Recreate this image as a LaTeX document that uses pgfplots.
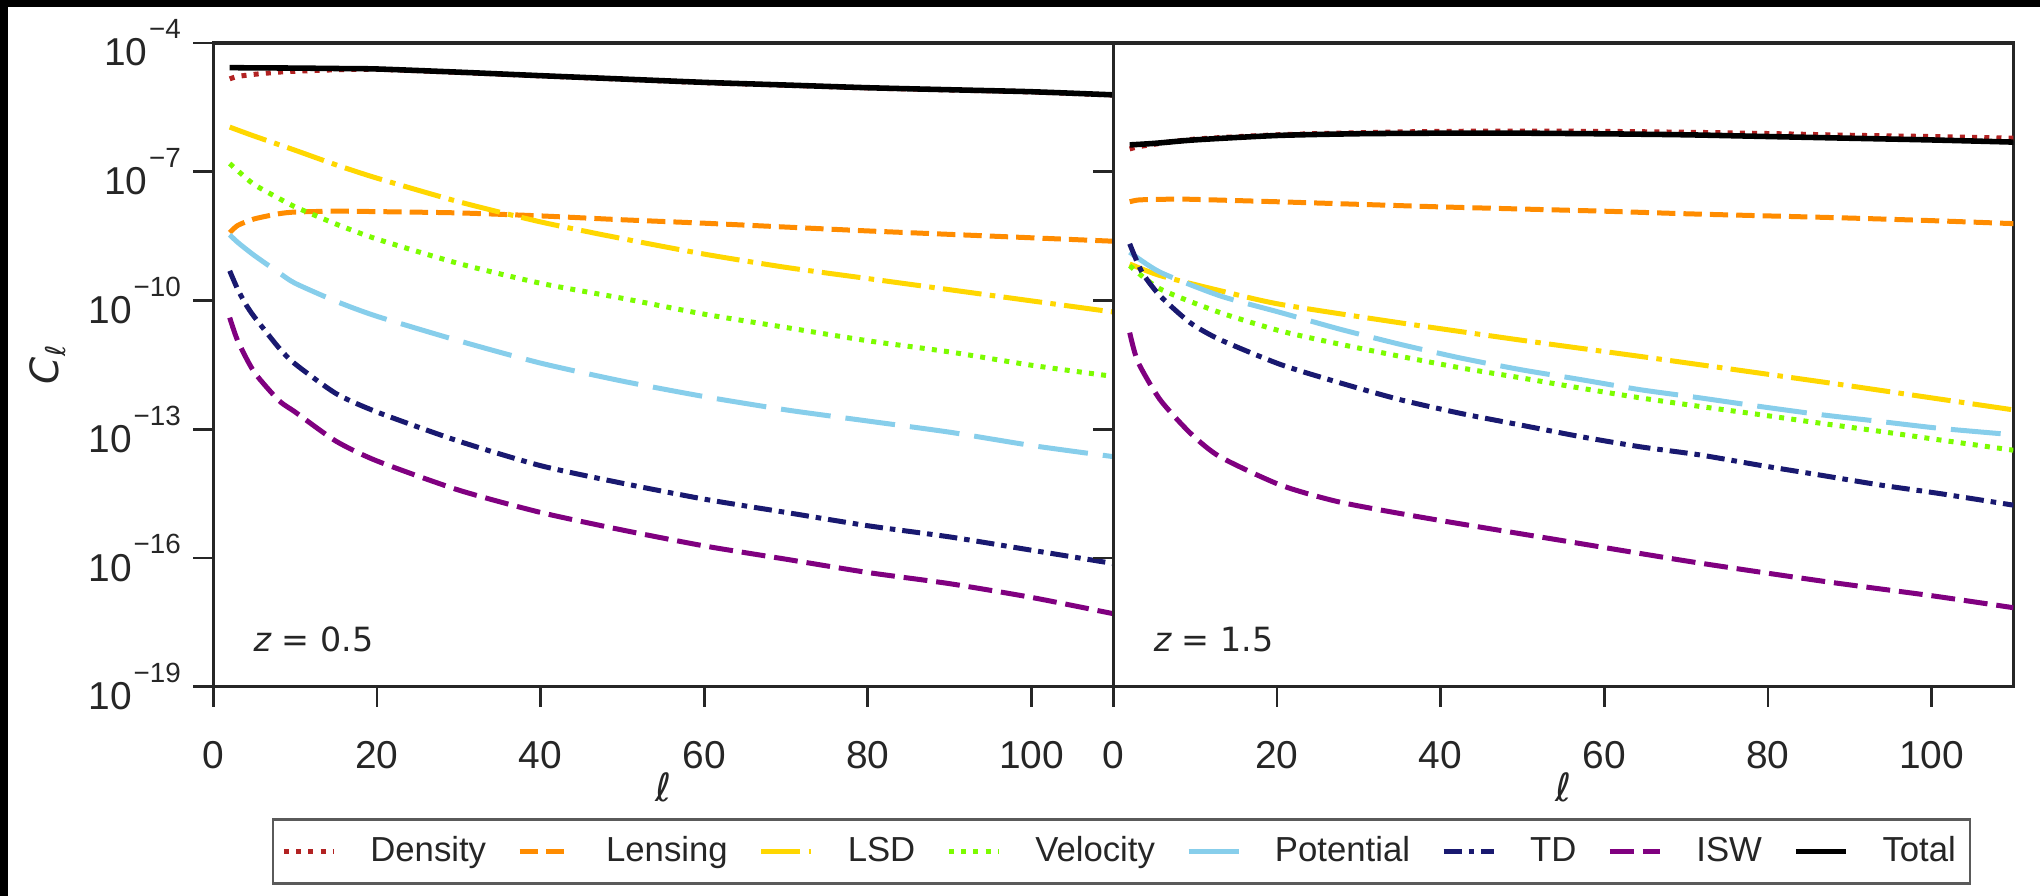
\documentclass[border=0pt]{standalone}
\usepackage{pgfplots}
\pgfplotsset{compat=1.18}
\usepackage{fontspec}
\setmainfont{Liberation Sans}
\newfontfamily\dejavu{DejaVu Sans}
\definecolor{axgray}{HTML}{262626}
\definecolor{leggray}{HTML}{5A5A5A}
\definecolor{cDensity}{HTML}{B22222}
\definecolor{cLensing}{HTML}{FF8C00}
\definecolor{cLSD}{HTML}{FFD700}
\definecolor{cVel}{HTML}{7CFC00}
\definecolor{cPot}{HTML}{87CEEB}
\definecolor{cTD}{HTML}{191970}
\definecolor{cISW}{HTML}{800080}
\newcommand{\tenpow}[1]{10\kern0.6pt\raisebox{9.8pt}{\fontsize{10}{10}\selectfont −#1}}
\tikzset{
  sDensity/.style={draw=cDensity, line width=1.8pt, dash pattern=on 1.8pt off 2.6pt},
  sLensing/.style={draw=cLensing, line width=1.8pt, dash pattern=on 6.6pt off 2.9pt},
  sLSD/.style={draw=cLSD, line width=1.8pt, dash pattern=on 14pt off 3pt on 2pt off 3pt},
  sVel/.style={draw=cVel, line width=1.8pt, dash pattern=on 1.8pt off 2.6pt},
  sPot/.style={draw=cPot, line width=1.8pt, dash pattern=on 18pt off 5.4pt},
  sTD/.style={draw=cTD, line width=1.8pt, dash pattern=on 6.5pt off 2.5pt on 2pt off 2.5pt},
  sISW/.style={draw=cISW, line width=1.8pt, dash pattern=on 8.6pt off 3.2pt},
  sTot/.style={draw=black, line width=2pt},
}
\begin{document}
\begin{tikzpicture}
\useasboundingbox (0,0) rectangle (734.4pt,-322.56pt);
\fill[black] (0,0) rectangle (734.4pt,-2.5pt);
\fill[black] (0,0) rectangle (2.9pt,-322.56pt);
% ---------------- left panel z = 0.5 ----------------
\begin{axis}[
  scale only axis, width=324pt, height=231.73pt,
  at={(76.8pt,-247.2pt)}, anchor=south west,
  xmin=0, xmax=110, ymode=log, ymin=1e-19, ymax=1e-4,
  xtick={0,20,40,60,80,100},
  ytick={1e-19,1e-16,1e-13,1e-10,1e-7,1e-4},
  yticklabels={\tenpow{19},\tenpow{16},\tenpow{13},\tenpow{10},\tenpow{7},\tenpow{4}},
  /pgf/number format/assume math mode=true,
  yminorticks=false, xminorticks=false,
  tick align=outside, major tick length=7.2pt,
  xtick pos=bottom, ytick pos=left,
  axis line style={line width=1.2pt, draw=axgray},
  tick style={line width=1.0pt, draw=axgray},
  tick label style={font=\fontsize{14}{16}\selectfont, text=axgray},
  xticklabel style={yshift=-9.1pt},
  yticklabel style={xshift=-1pt},
  xlabel={\dejavu\itshape ℓ},
  xlabel style={at={(axis description cs:0.5,-0.156)}, anchor=center, font=\fontsize{14}{16}\selectfont, text=axgray},
  ylabel={{\dejavu\itshape C}\raisebox{-2.5pt}{\fontsize{9.8}{10}\dejavu\itshape ℓ}},
  ylabel style={at={(axis description cs:-0.184,0.5)}, anchor=center, font=\fontsize{14}{16}\selectfont, text=axgray},
  legend columns=8,
  legend style={at={(1.009,-0.256)}, anchor=center, draw=leggray, line width=0.9pt, fill=white,
    font=\fontsize{12.5}{15}\selectfont, text=axgray, inner xsep=3pt, inner ysep=4.3pt,
    /tikz/every odd column/.append style={column sep=10.2pt},
    /tikz/every even column/.append style={column sep=9.2pt}},
  legend cell align=left,
  legend image code/.code={\draw[#1] (0pt,0pt) -- (18pt,0pt);},
]
\addplot[sDensity, smooth, tension=0.4] coordinates {(2,1.46e-5)(3,1.66e-5)(5,1.86e-5)(8,2.09e-5)(10,2.19e-5)(15,2.37e-5)(20,2.43e-5)(30,2.06e-5)(40,1.71e-5)(50,1.43e-5)(60,1.19e-5)(70,1.035e-5)(80,8.95e-6)(90,8.04e-6)(100,7.23e-6)(110,6.11e-6)};
\addlegendentry{Density}
\addplot[sLensing, smooth, tension=0.4] coordinates {(2,3.802e-9)(3,5.623e-9)(5,7.943e-9)(8,1.047e-8)(10,1.148e-8)(15,1.202e-8)(20,1.175e-8)(30,1.096e-8)(40,9.333e-9)(50,7.586e-9)(60,6.310e-9)(70,5.129e-9)(80,4.169e-9)(90,3.467e-9)(100,2.884e-9)(110,2.399e-9)};
\addlegendentry{Lensing}
\addplot[sLSD, smooth, tension=0.4] coordinates {(2,1.096e-6)(5,6.76e-7)(10,3.162e-7)(15,1.445e-7)(20,7.08e-8)(30,1.995e-8)(40,6.76e-9)(50,2.754e-9)(60,1.202e-9)(70,5.89e-10)(80,3.236e-10)(90,1.778e-10)(100,9.77e-11)(110,5.37e-11)};
\addlegendentry{LSD}
\addplot[sVel, smooth, tension=0.4] coordinates {(2,1.549e-7)(3,1.047e-7)(5,5.012e-8)(8,2.399e-8)(10,1.514e-8)(15,6.026e-9)(20,2.692e-9)(30,7.244e-10)(40,2.512e-10)(50,1.122e-10)(60,4.786e-11)(70,2.344e-11)(80,1.148e-11)(90,6.310e-12)(100,3.090e-12)(110,1.698e-12)};
\addlegendentry{Velocity}
\addplot[sPot, smooth, tension=0.4] coordinates {(2,3.388e-9)(3,2.239e-9)(5,1.122e-9)(8,4.467e-10)(10,2.512e-10)(15,9.550e-11)(20,4.266e-11)(30,1.148e-11)(40,3.467e-12)(50,1.318e-12)(60,5.754e-13)(70,2.818e-13)(80,1.549e-13)(90,8.511e-14)(100,4.169e-14)(110,2.291e-14)};
\addlegendentry{Potential}
\addplot[sTD, smooth, tension=0.4] coordinates {(2,4.898e-10)(3,1.778e-10)(4,7.943e-11)(5,4.169e-11)(8,7.943e-12)(10,3.311e-12)(15,6.761e-13)(20,2.512e-13)(30,5.248e-14)(40,1.413e-14)(50,5.495e-15)(60,2.344e-15)(70,1.148e-15)(80,5.623e-16)(90,3.090e-16)(100,1.514e-16)(110,7.413e-17)};
\addlegendentry{TD}
\addplot[sISW, smooth, tension=0.4] coordinates {(2,3.981e-11)(3,1.122e-11)(5,2.138e-12)(8,4.677e-13)(10,2.512e-13)(15,5.248e-14)(20,1.820e-14)(30,3.802e-15)(40,1.148e-15)(50,4.467e-16)(60,1.905e-16)(70,9.333e-17)(80,4.571e-17)(90,2.512e-17)(100,1.202e-17)(110,5.012e-18)};
\addlegendentry{ISW}
\addplot[sTot, smooth, tension=0.4] coordinates {(2,2.661e-5)(5,2.630e-5)(10,2.600e-5)(15,2.541e-5)(20,2.477e-5)(30,2.089e-5)(40,1.730e-5)(50,1.445e-5)(60,1.208e-5)(70,1.047e-5)(80,9.06e-6)(90,8.13e-6)(100,7.31e-6)(110,6.18e-6)};
\addlegendentry{Total}
\node[anchor=base west, font=\fontsize{12}{14}\dejavu, text=axgray] at (rel axis cs:0.034,0.054) {{\itshape z} = 0.5};
\end{axis}
% ---------------- right panel z = 1.5 ----------------
\begin{axis}[
  scale only axis, width=324pt, height=231.73pt,
  at={(400.8pt,-247.2pt)}, anchor=south west,
  xmin=0, xmax=110, ymode=log, ymin=1e-19, ymax=1e-4,
  xtick={0,20,40,60,80,100},
  ytick={1e-19,1e-16,1e-13,1e-10,1e-7,1e-4},
  yticklabels={},
  /pgf/number format/assume math mode=true,
  yminorticks=false, xminorticks=false,
  tick align=outside, major tick length=7.2pt,
  xtick pos=bottom, ytick pos=left,
  axis line style={line width=1.2pt, draw=axgray},
  tick style={line width=1.0pt, draw=axgray},
  tick label style={font=\fontsize{14}{16}\selectfont, text=axgray},
  xticklabel style={yshift=-9.1pt},
  xlabel={\dejavu\itshape ℓ},
  xlabel style={at={(axis description cs:0.5,-0.156)}, anchor=center, font=\fontsize{14}{16}\selectfont, text=axgray},
]
\addplot[sDensity, smooth, tension=0.4] coordinates {(2,3.388e-7)(3,3.802e-7)(5,4.365e-7)(10,5.754e-7)(20,7.244e-7)(30,8.128e-7)(40,8.710e-7)(50,8.810e-7)(60,8.710e-7)(70,8.318e-7)(80,7.762e-7)(90,7.079e-7)(100,6.607e-7)(110,6.026e-7)};
\addplot[sLensing, smooth, tension=0.4] coordinates {(2,1.995e-8)(3,2.188e-8)(5,2.265e-8)(8,2.291e-8)(10,2.265e-8)(20,1.995e-8)(30,1.738e-8)(40,1.514e-8)(50,1.349e-8)(60,1.202e-8)(70,1.047e-8)(80,9.333e-9)(90,8.318e-9)(100,7.244e-9)(110,6.166e-9)};
\addplot[sLSD, smooth, tension=0.4] coordinates {(2,7.079e-10)(5.7,3.802e-10)(13,1.698e-10)(20.4,8.128e-11)(35,3.020e-11)(50,1.175e-11)(65,4.786e-12)(80,1.905e-12)(90,1.023e-12)(100,5.370e-13)(110,2.818e-13)};
\addplot[sVel, smooth, tension=0.4] coordinates {(2,6.457e-10)(5.7,1.862e-10)(13,5.248e-11)(20.4,1.950e-11)(27.7,9.550e-12)(35,5.012e-12)(42.4,2.692e-12)(49.7,1.585e-12)(57,9.120e-13)(64.4,5.370e-13)(71.7,3.388e-13)(79,2.188e-13)(86.4,1.380e-13)(93.7,8.913e-14)(101,5.623e-14)(110,3.236e-14)};
\addplot[sPot, smooth, tension=0.4] coordinates {(2,1.334e-9)(5.7,4.571e-10)(13,1.288e-10)(20.4,5.248e-11)(27.7,2.138e-11)(35,9.550e-12)(42.4,4.571e-12)(49.7,2.455e-12)(57,1.445e-12)(64.4,8.318e-13)(71.7,5.370e-13)(79,3.388e-13)(86.4,2.188e-13)(93.7,1.514e-13)(101,1.047e-13)(110,7.413e-14)};
\addplot[sTD, smooth, tension=0.4] coordinates {(2,2.089e-9)(3.5,4.571e-10)(5.7,1.288e-10)(9.4,3.020e-11)(13,1.230e-11)(20.4,3.236e-12)(27.7,1.202e-12)(35,4.898e-13)(42.4,2.344e-13)(49.7,1.259e-13)(57,6.761e-14)(64.4,3.890e-14)(71.7,2.512e-14)(79,1.445e-14)(86.4,8.511e-15)(93.7,5.012e-15)(101,3.162e-15)(110,1.698e-15)};
\addplot[sISW, smooth, tension=0.4] coordinates {(2,1.778e-11)(3,3.715e-12)(5.7,4.898e-13)(9.4,8.128e-14)(13,2.291e-14)(20.4,5.012e-15)(27.7,1.995e-15)(38.5,8.318e-16)(55,2.512e-16)(71,7.943e-17)(87,2.818e-17)(100,1.318e-17)(110,6.918e-18)};
\addplot[sTot, smooth, tension=0.4] coordinates {(2,4.217e-7)(5,4.571e-7)(10,5.521e-7)(20,6.982e-7)(30,7.674e-7)(40,7.907e-7)(50,7.907e-7)(60,7.638e-7)(70,7.244e-7)(80,6.607e-7)(90,6.026e-7)(100,5.495e-7)(110,4.898e-7)};
\node[anchor=base west, font=\fontsize{12}{14}\dejavu, text=axgray] at (rel axis cs:0.034,0.054) {{\itshape z} = 1.5};
\end{axis}
\end{tikzpicture}
\end{document}
